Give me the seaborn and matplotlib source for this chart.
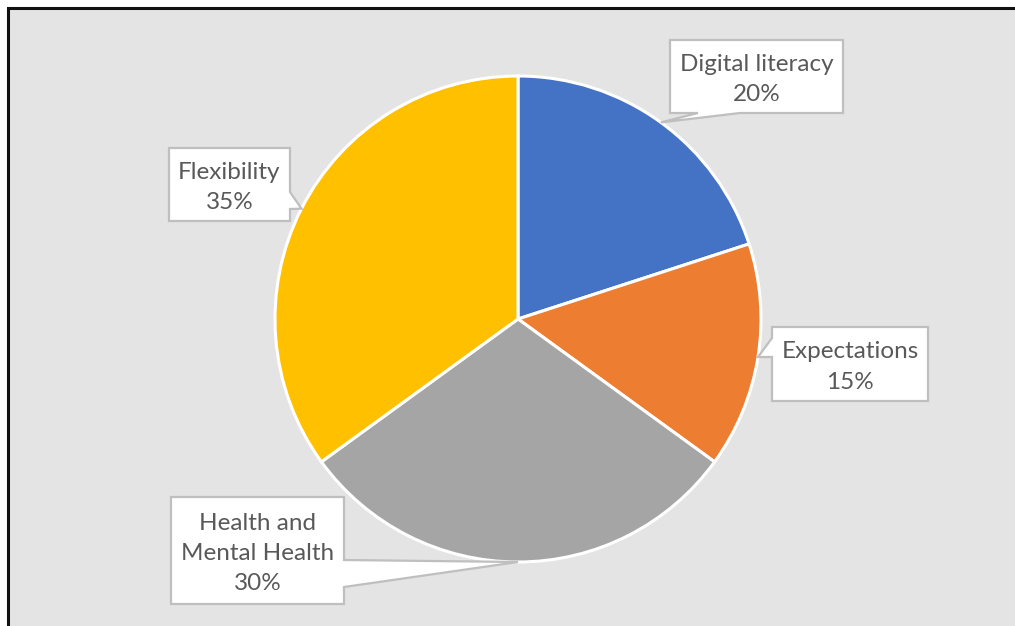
import numpy as np
import matplotlib
matplotlib.use("Agg")
import matplotlib.pyplot as plt
from matplotlib.patches import Rectangle, Polygon
import seaborn as sns

sns.set_theme(style="white")
plt.rcParams['font.family'] = ['Lato', 'DejaVu Sans']

categories = ["Digital literacy", "Expectations", "Health and\nMental Health", "Flexibility"]
values = [20, 15, 30, 35]
colors = ["#4472C4", "#ED7D31", "#A5A5A5", "#FFC000"]

W, H = 1015, 626
fig = plt.figure(figsize=(W / 100, H / 100), dpi=100, facecolor="white")
ax = fig.add_axes([0, 0, 1, 1])
ax.set_xlim(0, W)
ax.set_ylim(0, H)
ax.axis("off")

# chart area background with frame (right/bottom cropped)
ax.add_patch(Rectangle((8.5, -20), W + 40, H - 7.5 + 20, facecolor="#E4E4E4",
                       edgecolor="#111111", lw=2.2, zorder=0))

cx, cy, R = 518, H - 319, 243
wedges, _ = ax.pie(values, colors=colors, startangle=90, counterclock=False,
                   center=(cx, cy), radius=R, frame=True,
                   wedgeprops=dict(edgecolor="white", linewidth=2.2))
ax.set_xlim(0, W)
ax.set_ylim(0, H)
ax.axis("off")

# label boxes (layout, in pixel coords: x0, x1, y_top, y_bottom), pointer side and base
boxes = [
    dict(box=(670, 843, 40, 113), side="bottom", base=(698, 740)),
    dict(box=(772, 928, 327, 401), side="left", base=(338, 357)),
    dict(box=(171, 344, 497, 604), side="right", base=(560, 587)),
    dict(box=(169, 290, 148, 221), side="right", base=(192, 209)),
]

for w, cat, v, b in zip(wedges, categories, values, boxes):
    mid = np.deg2rad((w.theta1 + w.theta2) / 2)
    tx, ty = cx + R * np.cos(mid), cy + R * np.sin(mid)
    x0, x1, yt, yb = b["box"]
    yt, yb = H - yt, H - yb
    a1, a2 = b["base"]
    if b["side"] == "bottom":
        pts = [(x0, yt), (x1, yt), (x1, yb), (a2, yb), (tx, ty), (a1, yb), (x0, yb)]
    elif b["side"] == "left":
        pts = [(x0, yt), (x1, yt), (x1, yb), (x0, yb), (x0, H - a2), (tx, ty), (x0, H - a1)]
    else:
        pts = [(x0, yt), (x1, yt), (x1, H - a1), (tx, ty), (x1, H - a2), (x1, yb), (x0, yb)]
    ax.add_patch(Polygon(pts, closed=True, facecolor="white", edgecolor="#BFBFBF",
                         lw=1.6, zorder=5, joinstyle="miter"))
    ax.text((x0 + x1) / 2, (yt + yb) / 2 - 3, f"{cat}\n{v}%", ha="center", va="center",
            fontsize=17.5, color="#595959", linespacing=1.55, zorder=6)

fig.savefig("out.png", dpi=100, facecolor="white")
